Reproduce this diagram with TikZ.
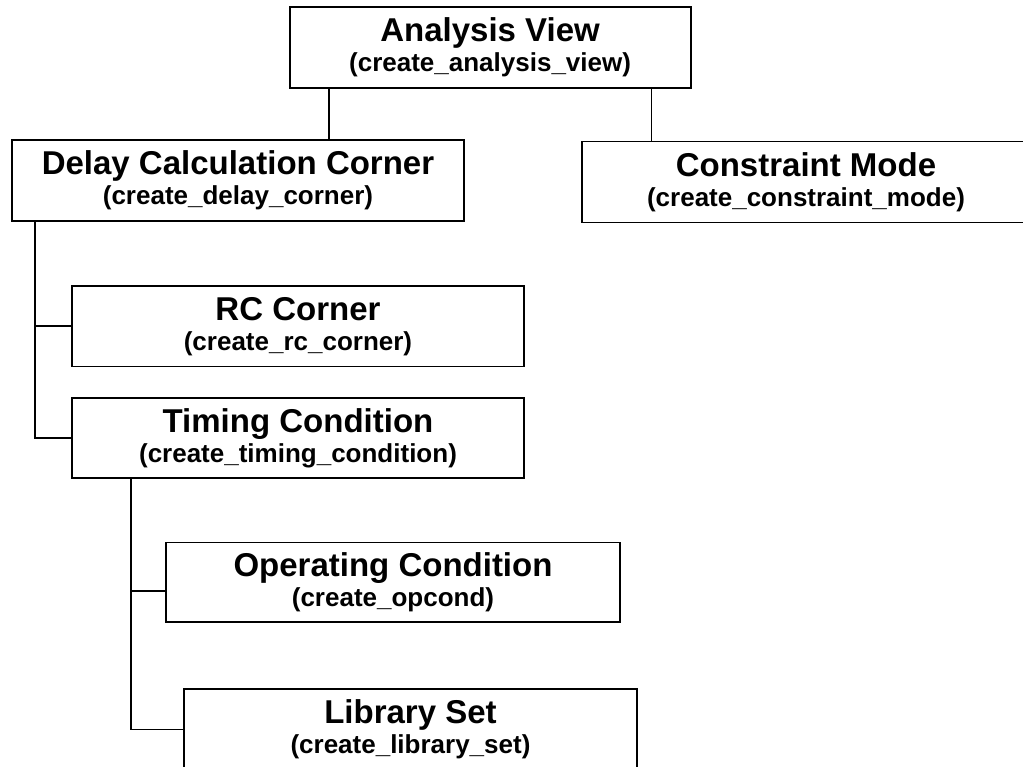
\documentclass[tikz,border=0pt]{standalone}
\usepackage{fontspec}
\setmainfont{Liberation Sans}
\usetikzlibrary{calc}
\begin{document}
\begin{tikzpicture}[x=1pt,y=1pt,
  box/.style={draw=black, line width=1.8pt, fill=white, rectangle,
    minimum height=81pt, inner sep=0pt, align=center,
    font=\fontsize{26}{30}\selectfont\bfseries},
  link/.style={draw=black, line width=1.9pt}]
\newcommand{\ttl}[1]{{\fontsize{33}{30}\selectfont #1}}
\useasboundingbox (0,0) rectangle (1023,-766);
\begin{scope}
\clip (0,0) rectangle (1023,-766);
% hierarchy of views and corners
\node[box, minimum width=401pt] (av) at (490.1,-47.5) {\ttl{Analysis View}\\(create\_analysis\_view)};
\node[box, minimum width=452pt] (dc) at (238,-180.5) {\ttl{Delay Calculation Corner}\\(create\_delay\_corner)};
\node[box, minimum width=448pt] (cm) at (806,-182) {\ttl{Constraint Mode}\\(create\_constraint\_mode)};
\node[box, minimum width=452.6pt, minimum height=80.5pt] (rc) at (298,-326.3) {\ttl{RC Corner}\\(create\_rc\_corner)};
\node[box, minimum width=452.6pt, minimum height=80pt] (tc) at (298,-438.3) {\ttl{Timing Condition}\\(create\_timing\_condition)};
\node[box, minimum width=454pt, minimum height=79.5pt] (oc) at (393,-582.3) {\ttl{Operating Condition}\\(create\_opcond)};
\node[box, minimum width=453pt] (ls) at (410.5,-729.5) {\ttl{Library Set}\\(create\_library\_set)};

% connectors
\draw[link] ([xshift=40.5pt]av.south west) coordinate (a1) -- (a1 |- dc.north);
\draw[link] ([xshift=-40pt]av.south east) coordinate (a2) -- (a2 |- cm.north);
\draw[link] ([xshift=24pt]dc.south west) coordinate (d1) -- (d1 |- tc.west) -- (tc.west);
\draw[link] (d1 |- rc.west) -- (rc.west);
\draw[link] ([xshift=60.6pt]tc.south west) coordinate (t1) -- (t1 |- ls.west) -- (ls.west);
\coordinate (o1) at ($(oc.west)+(0,-8.4)$);
\draw[link] (t1 |- o1) -- (o1);
\end{scope}
\end{tikzpicture}
\end{document}
